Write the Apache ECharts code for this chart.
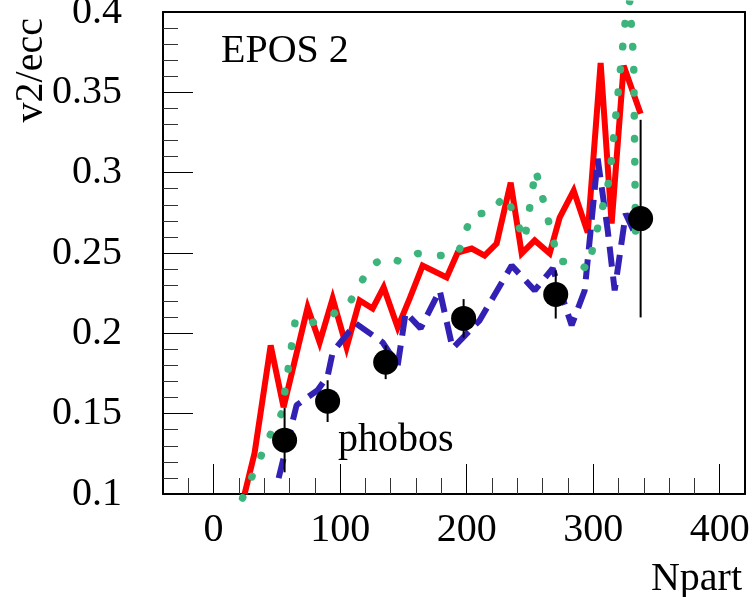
<!DOCTYPE html>
<html>
<head>
<meta charset="utf-8">
<script src="https://cdn.jsdelivr.net/npm/echarts@6/dist/echarts.min.js"></script>
<style>
  html, body { margin: 0; padding: 0; background: #ffffff; }
  #chart { width: 753px; height: 597px; }
</style>
</head>
<body>
<div id="chart"></div>
<script>
// EPOS 2 v2/ecc versus Npart, with PHOBOS points

// x tick values
const xMajorTicks = [0, 100, 200, 300, 400];
const xMinorTicks = [-20, 20, 40, 60, 80, 120, 140, 160, 180, 220, 240, 260, 280, 320, 340, 360, 380];

// EPOS 2, solid curve
const solidNpart = [24.5, 32.4, 45.1, 55.3, 74.3, 83.8, 94.1, 105.1, 115.4, 125.7, 134.4, 145.5, 155.0, 165.2, 184.2, 192.9, 204.0, 214.2, 223.7, 234.8, 243.5, 253.8, 265.6, 273.5, 284.6, 295.7, 305.9, 314.6, 324.1, 337.5];
const solidV2 = [0.100, 0.1255, 0.1925, 0.154, 0.2161, 0.1944, 0.2217, 0.1913, 0.2205, 0.2155, 0.2286, 0.2037, 0.2217, 0.2422, 0.2348, 0.2503, 0.2528, 0.2484, 0.2559, 0.2938, 0.2497, 0.2578, 0.2497, 0.272, 0.2888, 0.2627, 0.3683, 0.2683, 0.3665, 0.3366];

// EPOS 2, dashed curve
const dashedNpart = [51.4, 65.6, 82.2, 90.1, 94.1, 112.3, 133.6, 145.5, 151.8, 163.6, 178.7, 188.9, 210.3, 235.6, 253.8, 268.0, 283.0, 293.3, 303.6, 311.5, 317.0, 325.7, 334.4];
const dashedV2 = [0.1099, 0.1553, 0.1646, 0.1733, 0.1882, 0.2062, 0.1944, 0.1801, 0.2130, 0.2031, 0.2267, 0.1907, 0.2081, 0.2422, 0.2267, 0.2404, 0.2050, 0.2267, 0.3087, 0.2640, 0.2267, 0.2745, 0.2596];

// EPOS 2, dotted curve
const dottedNpart = [22.9, 45.1, 53.8, 64.8, 78.3, 90.9, 105.9, 124.1, 137.5, 148.6, 161.3, 178.7, 192.9, 204.0, 219.0, 230.8, 245.8, 254.5, 272.7, 286.2, 295.7, 313.0, 325.7, 328.9, 332.0, 333.6];
const dottedV2 = [0.0975, 0.1373, 0.1503, 0.2093, 0.2068, 0.2106, 0.2168, 0.2422, 0.2478, 0.2441, 0.2497, 0.2484, 0.2491, 0.2739, 0.2752, 0.2863, 0.2578, 0.3019, 0.2447, 0.2447, 0.2398, 0.2969, 0.3969, 0.4068, 0.3696, 0.2559];

// PHOBOS data
const phobosNpart = [56.1, 90.1, 136.0, 197.6, 270.4, 337.5];
const phobosV2 = [0.1335, 0.1578, 0.1820, 0.2093, 0.2242, 0.2714];
const phobosErr = [0.020, 0.013, 0.0105, 0.012, 0.015, 0.0615];

const pairs = (xs, ys) => xs.map((x, i) => [x, ys[i]]);

const FONT = '"Liberation Serif", "Times New Roman", serif';

const chart = echarts.init(document.getElementById('chart'), null, { renderer: 'canvas' });

const frameLine = { show: true, onZero: false, lineStyle: { color: '#000', width: 2 } };

chart.setOption({
  animation: false,
  backgroundColor: '#ffffff',
  grid: { left: 163, right: 8, top: 12, bottom: 103, containLabel: false, outerBoundsMode: 'none' },
  xAxis: [
    {
      type: 'value', min: -40, max: 420, position: 'bottom',
      axisLine: frameLine,
      splitLine: { show: false },
      axisTick: { show: true, inside: true, length: 30, customValues: xMajorTicks, lineStyle: { color: '#000', width: 1 } },
      axisLabel: { show: true, customValues: xMajorTicks, margin: 16, color: '#000', fontSize: 40, fontFamily: FONT }
    },
    {
      type: 'value', min: -40, max: 420, position: 'bottom',
      axisLine: { show: false, onZero: false },
      splitLine: { show: false },
      axisTick: { show: true, inside: true, length: 16, customValues: xMinorTicks, lineStyle: { color: '#333', width: 1 } },
      axisLabel: { show: false }
    },
    {
      type: 'value', min: -40, max: 420, position: 'top',
      axisLine: frameLine, splitLine: { show: false },
      axisTick: { show: false }, axisLabel: { show: false }
    }
  ],
  yAxis: [
    {
      type: 'value', min: 0.1, max: 0.4, interval: 0.05, position: 'left',
      axisLine: frameLine,
      splitLine: { show: false },
      axisTick: { show: true, inside: true, length: 30, lineStyle: { color: '#000', width: 1 } },
      minorTick: { show: true, splitNumber: 5, length: 15, lineStyle: { color: '#333', width: 1 } },
      minorSplitLine: { show: false },
      axisLabel: { show: true, margin: 41, color: '#000', fontSize: 40, fontFamily: FONT }
    },
    {
      type: 'value', min: 0.1, max: 0.4, position: 'right',
      axisLine: frameLine, splitLine: { show: false },
      axisTick: { show: false }, axisLabel: { show: false }
    }
  ],
  graphic: [
    {
      type: 'text', x: 31, y: 18, rotation: Math.PI / 2,
      style: { text: 'v2/ecc', font: '40px ' + FONT, fill: '#000', align: 'right', verticalAlign: 'middle' }
    },
    {
      type: 'text', x: 742, y: 559,
      style: { text: 'Npart', font: '40px ' + FONT, fill: '#000', align: 'right', verticalAlign: 'top' }
    },
    {
      type: 'text', x: 221, y: 31,
      style: { text: 'EPOS 2', font: '40px ' + FONT, fill: '#000', align: 'left', verticalAlign: 'top' }
    },
    {
      type: 'text', x: 338, y: 420,
      style: { text: 'phobos', font: '40px ' + FONT, fill: '#000', align: 'left', verticalAlign: 'top' }
    }
  ],
  series: [
    {
      name: 'EPOS 2 solid', type: 'line', data: pairs(solidNpart, solidV2),
      showSymbol: false, symbol: 'none', clip: false, z: 2,
      lineStyle: { color: '#ff0000', width: 6, join: 'miter', miterLimit: 4 }
    },
    {
      name: 'EPOS 2 dashed', type: 'line', data: pairs(dashedNpart, dashedV2),
      showSymbol: false, symbol: 'none', clip: false, z: 3,
      lineStyle: { color: '#3321b5', width: 6, type: [20, 10], cap: 'butt' }
    },
    {
      name: 'EPOS 2 dotted', type: 'line', data: pairs(dottedNpart, dottedV2),
      showSymbol: false, symbol: 'none', clip: false, z: 4,
      lineStyle: { color: '#3cb47c', width: 7.5, type: [0.5, 22.5], cap: 'round' }
    },
    {
      name: 'phobos errors', type: 'custom', z: 5,
      data: phobosNpart.map((x, i) => [x, phobosV2[i], phobosErr[i]]),
      renderItem: function (params, api) {
        const x = api.value(0), y = api.value(1), e = api.value(2);
        const lo = api.coord([x, y - e]);
        const hi = api.coord([x, y + e]);
        return {
          type: 'line',
          shape: { x1: lo[0], y1: lo[1], x2: hi[0], y2: hi[1] },
          style: { stroke: '#000', lineWidth: 2 }
        };
      }
    },
    {
      name: 'phobos', type: 'scatter', z: 6,
      data: pairs(phobosNpart, phobosV2),
      symbol: 'circle', symbolSize: 25,
      itemStyle: { color: '#000', opacity: 1 }
    }
  ]
});
</script>
</body>
</html>
